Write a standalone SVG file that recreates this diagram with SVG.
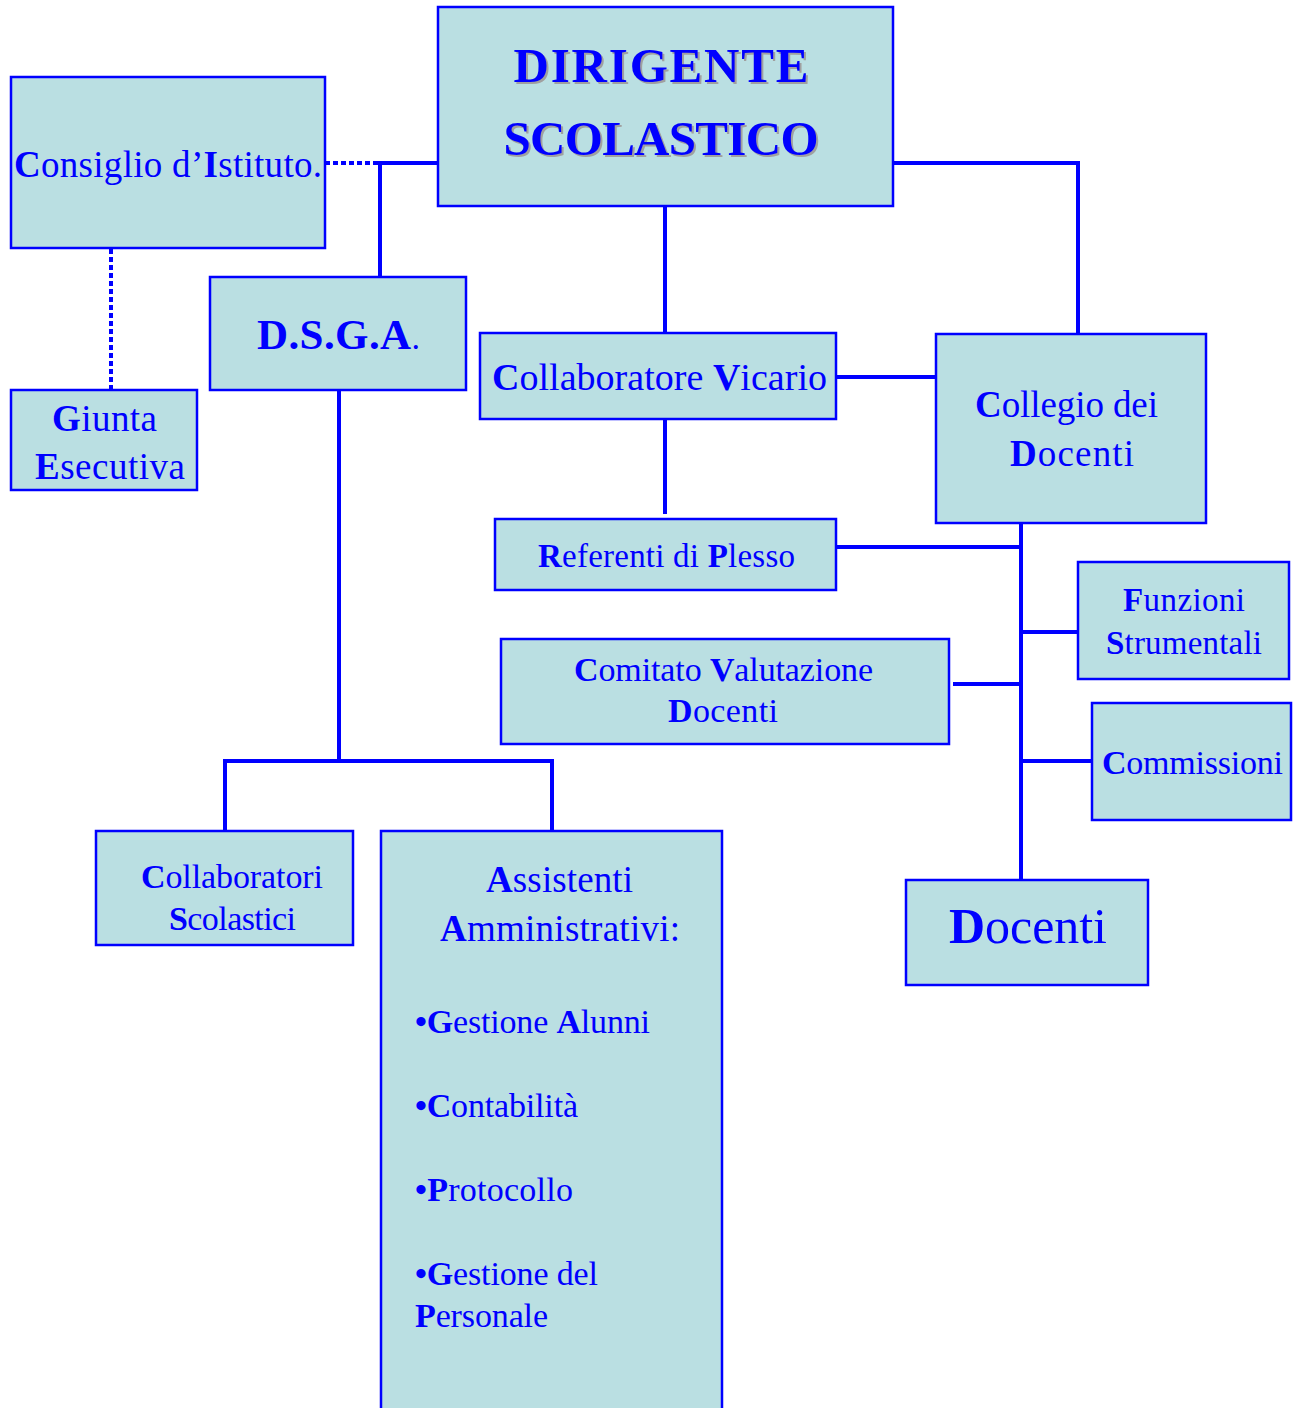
<svg xmlns="http://www.w3.org/2000/svg" width="1298" height="1408" viewBox="0 0 1298 1408">
<style>
.box{fill:#BADFE2;stroke:#0000FF;stroke-width:2.5}
.ln{stroke:#0000FF;stroke-width:4;fill:none}
.dot{stroke:#0000FF;stroke-width:4;fill:none;stroke-dasharray:5 3}
text{font-family:"Liberation Serif","Times New Roman",serif;fill:#0000FF}
.b{font-weight:bold}
.m{text-anchor:middle}
.sh{fill:#a0a0a0}
</style>
<rect width="1298" height="1408" fill="#FFFFFF"/>
<g id="connectors">
<path class="dot" d="M325 163 H380"/>
<path class="ln" d="M380 163 H438 M380 161 V277"/>
<path class="dot" d="M111 249 V390"/>
<path class="ln" d="M893 163 H1078 V334"/>
<path class="ln" d="M665 206 V333"/>
<path class="ln" d="M665 419 V514"/>
<path class="ln" d="M836 377 H936"/>
<path class="ln" d="M339 390 V761 M223 761 H554 M225 759 V831 M552 759 V831"/>
<path class="ln" d="M1021 523 V880"/>
<path class="ln" d="M836 547 H1021"/>
<path class="ln" d="M1021 632 H1078"/>
<path class="ln" d="M953 684 H1021"/>
<path class="ln" d="M1021 761 H1092"/>
</g>
<g id="dirigente">
<rect class="box" x="438" y="7" width="455" height="199"/>
<text class="m b sh" x="663" y="84" font-size="49" textLength="295">DIRIGENTE</text>
<text class="m b sh" x="663" y="157" font-size="49" textLength="315">SCOLASTICO</text>
<text class="m b" x="661" y="82" font-size="49" textLength="295">DIRIGENTE</text>
<text class="m b" x="661" y="155" font-size="49" textLength="315">SCOLASTICO</text>
</g>
<g id="consiglio">
<rect class="box" x="11" y="77" width="314" height="171"/>
<text x="14" y="177" font-size="37" textLength="308"><tspan class="b">C</tspan>onsiglio d’<tspan class="b">I</tspan>stituto.</text>
</g>
<g id="giunta">
<rect class="box" x="11" y="390" width="186" height="100"/>
<text class="m" x="104.5" y="431" font-size="37" textLength="105"><tspan class="b">G</tspan>iunta</text>
<text class="m" x="110" y="479" font-size="37" textLength="150"><tspan class="b">E</tspan>secutiva</text>
</g>
<g id="dsga">
<rect class="box" x="210" y="277" width="256" height="113"/>
<text class="m" x="338.5" y="349" font-size="43" textLength="163"><tspan class="b">D.S.G.A</tspan><tspan font-size="34">.</tspan></text>
</g>
<g id="vicario">
<rect class="box" x="480" y="333" width="356" height="86"/>
<text class="m" x="659.5" y="390" font-size="38" textLength="335"><tspan class="b">C</tspan>ollaboratore <tspan class="b">V</tspan>icario</text>
</g>
<g id="collegio">
<rect class="box" x="936" y="334" width="270" height="189"/>
<text class="m" x="1066.5" y="417" font-size="37" textLength="183"><tspan class="b">C</tspan>ollegio dei</text>
<text class="m" x="1072" y="466" font-size="37" textLength="124"><tspan class="b">D</tspan>ocenti</text>
</g>
<g id="referenti">
<rect class="box" x="495" y="519" width="341" height="71"/>
<text class="m" x="666.5" y="567" font-size="33" textLength="257"><tspan class="b">R</tspan>eferenti di <tspan class="b">P</tspan>lesso</text>
</g>
<g id="funzioni">
<rect class="box" x="1078" y="562" width="211" height="117"/>
<text class="m" x="1184" y="611" font-size="33" textLength="122"><tspan class="b">F</tspan>unzioni</text>
<text class="m" x="1184" y="654" font-size="33" textLength="156"><tspan class="b">S</tspan>trumentali</text>
</g>
<g id="comitato">
<rect class="box" x="501" y="639" width="448" height="105"/>
<text class="m" x="723.5" y="681" font-size="34" textLength="299"><tspan class="b">C</tspan>omitato <tspan class="b">V</tspan>alutazione</text>
<text class="m" x="723" y="722" font-size="34" textLength="110"><tspan class="b">D</tspan>ocenti</text>
</g>
<g id="commissioni">
<rect class="box" x="1092" y="703" width="199" height="117"/>
<text class="m" x="1192.5" y="774" font-size="34" textLength="181"><tspan class="b">C</tspan>ommissioni</text>
</g>
<g id="docenti">
<rect class="box" x="906" y="880" width="242" height="105"/>
<text class="m" x="1028" y="943" font-size="50" textLength="158"><tspan class="b">D</tspan>ocenti</text>
</g>
<g id="collaboratori">
<rect class="box" x="96" y="831" width="257" height="114"/>
<text class="m" x="232" y="888" font-size="34" textLength="182"><tspan class="b">C</tspan>ollaboratori</text>
<text class="m" x="232.5" y="930" font-size="34" textLength="127"><tspan class="b">S</tspan>colastici</text>
</g>
<g id="assistenti">
<rect class="box" x="381" y="831" width="341" height="600"/>
<text class="m" x="559.5" y="892" font-size="37" textLength="147"><tspan class="b">A</tspan>ssistenti</text>
<text class="m" x="560" y="941" font-size="37" textLength="240"><tspan class="b">A</tspan>mministrativi:</text>
<text x="415" y="1033" font-size="34" textLength="235"><tspan class="b">•G</tspan>estione <tspan class="b">A</tspan>lunni</text>
<text x="415" y="1117" font-size="34" textLength="163"><tspan class="b">•C</tspan>ontabilità</text>
<text x="415" y="1201" font-size="34" textLength="158"><tspan class="b">•P</tspan>rotocollo</text>
<text x="415" y="1285" font-size="34" textLength="183"><tspan class="b">•G</tspan>estione del</text>
<text x="415" y="1327" font-size="34" textLength="133"><tspan class="b">P</tspan>ersonale</text>
</g>
</svg>
